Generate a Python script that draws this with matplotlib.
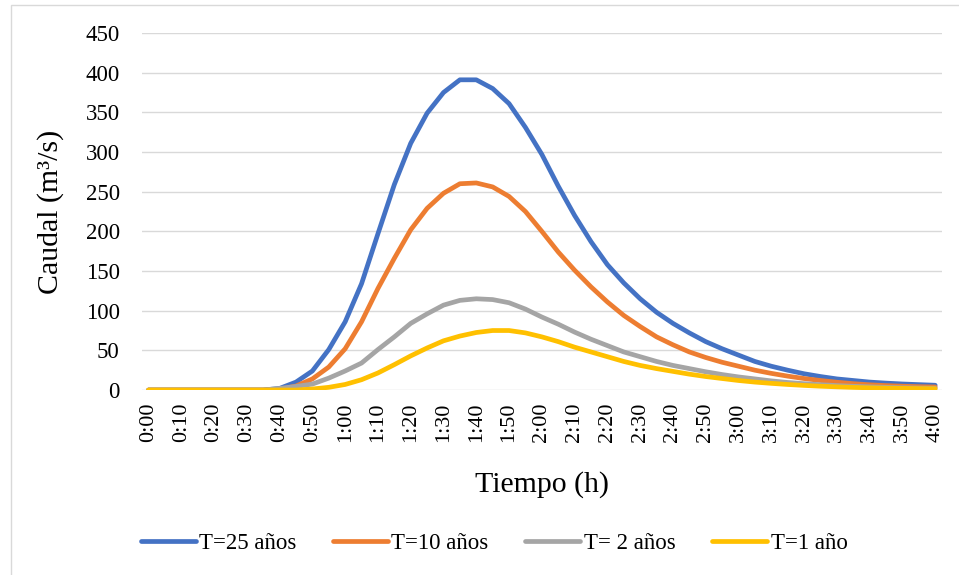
import matplotlib
matplotlib.use("Agg")
import matplotlib.pyplot as plt
from matplotlib.patches import Rectangle
import numpy as np

# caudales cada 5 minutos, de 0:00 a 4:00 (49 puntos)
minutos = list(range(0, 241, 5))

t25 = [0, 0, 0, 0, 0, 0, 0, 0, 2, 10, 24, 51, 86, 134, 197, 259, 311, 349, 375, 391,
       391, 380, 361, 331, 297, 257, 220, 187, 158, 135, 115, 98, 84, 72, 61, 52,
       44, 36, 30, 25, 20.5, 17, 14, 12, 10, 8.7, 7.6, 6.8, 6]
t10 = [0, 0, 0, 0, 0, 0, 0, 0, 1, 5, 14, 29, 52, 86, 128, 166, 202, 229, 248, 260,
       261, 256, 244, 225, 200, 174, 151, 130, 111, 94, 80, 67, 57, 48, 41, 35,
       30, 25, 21, 17.5, 14.5, 12, 9.8, 8, 6.6, 5.6, 4.8, 4.2, 3.8]
t2 = [0, 0, 0, 0, 0, 0, 0, 0, 2, 4.5, 7.5, 15, 24, 34, 51, 67, 84, 96, 107, 113,
      115, 114, 110, 102, 92, 83, 73, 64, 56, 48, 42, 36, 31, 27, 23, 19.5,
      16.5, 14, 11.5, 9.5, 8, 6.7, 5.6, 4.7, 4, 3.4, 2.9, 2.5, 2.2]
t1 = [0, 0, 0, 0, 0, 0, 0, 0, 0, 0, 1.3, 3.4, 7, 13, 21.5, 32, 43, 53, 62, 68,
      72.5, 75, 75, 72, 67, 61, 54, 48, 42, 36, 31, 27, 23.5, 20, 17, 14.5,
      12, 10, 8.4, 7, 5.8, 4.8, 4, 3.3, 2.8, 2.4, 2.1, 1.8, 1.6]

series = [("T=25 años", t25, "#4472C4"),
          ("T=10 años", t10, "#ED7D31"),
          ("T= 2 años", t2, "#A5A5A5"),
          ("T=1 año", t1, "#FFC000")]

plt.rcParams["font.family"] = ["Liberation Serif", "DejaVu Serif"]

fig = plt.figure(figsize=(9.59, 5.75), dpi=100)
ax = fig.add_axes([0.148, 0.3217, 0.834, 0.6209])

idx = np.arange(len(minutos))
for name, vals, col in series:
    ax.plot(idx, vals, color=col, lw=3.4, label=name,
            solid_capstyle="round", solid_joinstyle="round")

ax.set_xlim(-0.4, len(minutos) - 0.6)
ax.set_ylim(0, 450)
ax.set_yticks(range(0, 451, 50))
ticks = idx[::2]
ax.set_xticks(ticks)
ax.set_xticklabels([f"{m // 60}:{m % 60:02d}" for m in minutos[::2]], rotation=90)
ax.tick_params(axis="x", length=0, pad=9, labelsize=16)
ax.tick_params(axis="y", length=0, pad=16, labelsize=16.5)
ax.grid(axis="y", color="#D9D9D9", lw=1)
ax.set_axisbelow(True)
for s in ax.spines.values():
    s.set_visible(False)

ax.set_ylabel("Caudal (m³/s)", fontsize=21.5)
ax.yaxis.set_label_coords(-0.0975, 0.5)
ax.set_xlabel("Tiempo (h)", fontsize=21.5, labelpad=0)
ax.xaxis.set_label_coords(0.5, -0.227)
ax.xaxis.label.set_va("top")

fig.legend(loc="center", bbox_to_anchor=(494 / 959, 1 - 543 / 575), ncol=4,
           frameon=False, fontsize=16.5, handlelength=2.4, handletextpad=0.15,
           columnspacing=1.6)

fig.patches.append(Rectangle((11 / 959, -0.1), 1.2, 1 - 5 / 575 + 0.1,
                             transform=fig.transFigure, fill=False,
                             edgecolor="#D9D9D9", lw=1))

fig.savefig("out.png", dpi=100)
